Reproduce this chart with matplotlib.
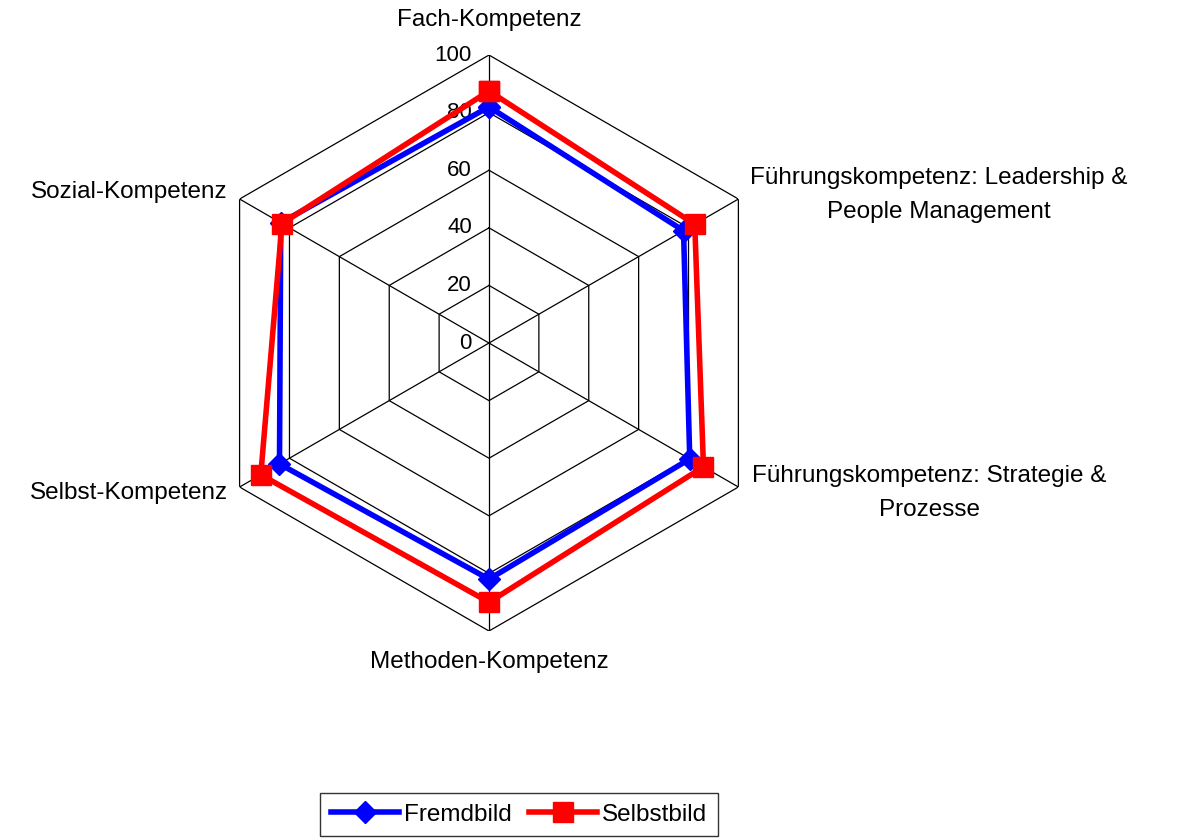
import numpy as np
import matplotlib.pyplot as plt

plt.rcParams['font.family'] = ['Liberation Sans', 'DejaVu Sans']

categories = ["Fach-Kompetenz",
              "Führungskompetenz: Leadership &\nPeople Management",
              "Führungskompetenz: Strategie &\nProzesse",
              "Methoden-Kompetenz",
              "Selbst-Kompetenz",
              "Sozial-Kompetenz"]
fremdbild = [82, 78, 80.5, 82, 84, 83.5]
selbstbild = [87.5, 82.5, 86, 90, 91.5, 83]
levels = [0, 20, 40, 60, 80, 100]

n = len(categories)
angles = np.arange(n) * 2 * np.pi / n
closed = np.append(angles, angles[0])

fig = plt.figure(figsize=(11.83, 8.39), dpi=100)
ax = fig.add_axes([0.1699, 0.2479, 0.4869, 0.6865], polar=True)
ax.set_theta_offset(np.pi / 2)
ax.set_theta_direction(-1)
ax.set_ylim(0, 100)
ax.grid(False)
ax.spines['polar'].set_visible(False)
ax.set_xticks([])
ax.set_yticks([])
ax.patch.set_alpha(0)

# hexagon grid + spokes
for lv in levels[1:]:
    ax.plot(closed, [lv] * (n + 1), color='black', lw=0.9, zorder=1)
for a in angles:
    ax.plot([a, a], [0, 100], color='black', lw=0.9, zorder=1)

# tick labels left of the vertical axis
for lv in levels:
    ax.annotate(str(lv), xy=(0, lv), xytext=(-17, 0), textcoords='offset pixels',
                ha='right', va='center', fontsize=16, annotation_clip=False)

ax.plot(closed, np.append(fremdbild, fremdbild[0]), color='#0000ff', lw=4,
        marker='D', markersize=11, label='Fremdbild', zorder=3, clip_on=False)
ax.plot(closed, np.append(selbstbild, selbstbild[0]), color='#ff0000', lw=4,
        marker='s', markersize=14, label='Selbstbild', zorder=4, clip_on=False)

# category labels
offsets = [(0, 35, 'center'), (12, 4, 'left'), (14, -6, 'left'),
           (0, -31, 'center'), (-12, -6, 'right'), (-12, 7, 'right')]
for a, lab, (dx, dy, ha) in zip(angles, categories, offsets):
    ax.annotate(lab, xy=(a, 100), xytext=(dx, dy), textcoords='offset pixels',
                ha=ha, va='center', multialignment='center', fontsize=17.5,
                annotation_clip=False, linespacing=1.72)

leg = fig.legend(loc='lower center', bbox_to_anchor=(519 / 1183, 0.003), ncol=2,
                 fontsize=17.5, frameon=True, fancybox=False, handlelength=2.8,
                 handletextpad=0.2, columnspacing=0.7, borderpad=0.45,
                 borderaxespad=0)
leg.get_frame().set_edgecolor('black')
leg.get_frame().set_linewidth(1)

fig.savefig('out.png', dpi=100)
